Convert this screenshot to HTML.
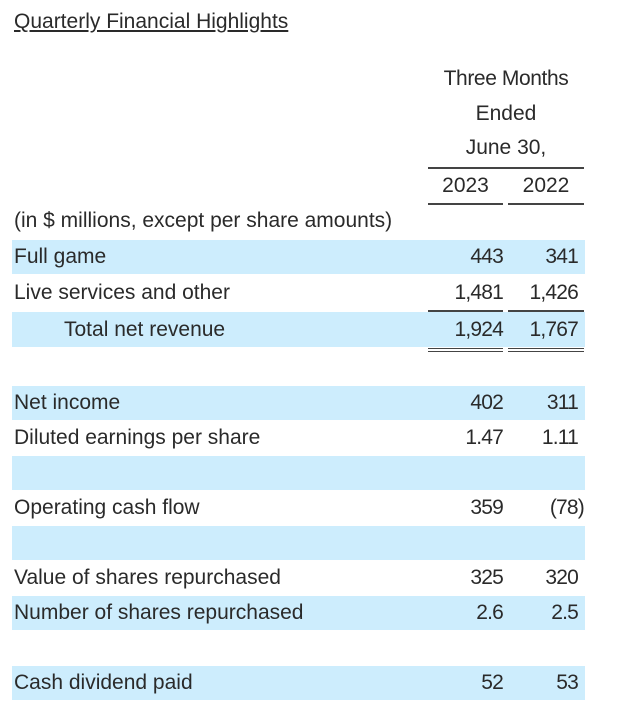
<!DOCTYPE html>
<html><head><meta charset="utf-8"><style>
body{margin:0;width:626px;height:717px;background:#fff;position:relative;font-family:"Liberation Sans",sans-serif;color:#2a2a2a;font-size:21px;letter-spacing:0px;overflow:hidden}
.t{position:absolute;line-height:22px;white-space:nowrap}
.s{position:absolute;left:12px;width:573px;background:#cdedfd}
.r{position:absolute;line-height:22px;text-align:right;white-space:nowrap;letter-spacing:-0.8px}
.l{position:absolute;height:2px;background:#444}
</style></head><body>
<div class="t" style="left:14px;top:11px;text-decoration:underline;font-size:21px;letter-spacing:0px">Quarterly Financial Highlights</div>
<div class="t" style="left:428px;width:156px;text-align:center;top:68px;letter-spacing:-0.4px">Three Months</div>
<div class="t" style="left:428px;width:156px;text-align:center;top:103px">Ended</div>
<div class="t" style="left:428px;width:156px;text-align:center;top:137px">June 30,</div>
<div class="l" style="left:428px;width:156px;top:167px"></div>
<div class="t" style="left:428px;width:75px;text-align:center;top:175px">2023</div>
<div class="t" style="left:508px;width:76px;text-align:center;top:175px">2022</div>
<div class="l" style="left:428px;width:75px;top:203px"></div>
<div class="l" style="left:508px;width:76px;top:203px"></div>
<div class="t" style="left:14px;top:210px">(in $ millions, except per share amounts)</div>

<div class="s" style="top:240px;height:34px"></div>
<div class="s" style="top:312px;height:35px"></div>
<div class="s" style="top:386px;height:34px"></div>
<div class="s" style="top:456px;height:34px"></div>
<div class="s" style="top:526px;height:34px"></div>
<div class="s" style="top:596px;height:34px"></div>
<div class="s" style="top:666px;height:34px"></div>

<div class="l" style="left:428px;width:75px;top:310px"></div>
<div class="l" style="left:508px;width:76px;top:310px"></div>
<div class="l" style="left:428px;width:75px;top:348px;height:1px"></div>
<div class="l" style="left:508px;width:76px;top:348px;height:1px"></div>
<div class="l" style="left:428px;width:75px;top:351px;height:1px"></div>
<div class="l" style="left:508px;width:76px;top:351px;height:1px"></div>

<div class="t" style="left:14px;top:246px">Full game</div>
<div class="r" style="right:123px;top:246px">443</div><div class="r" style="right:48px;top:246px">341</div>
<div class="t" style="left:14px;top:282px">Live services and other</div>
<div class="r" style="right:123px;top:282px">1,481</div><div class="r" style="right:48px;top:282px">1,426</div>
<div class="t" style="left:64px;top:319px">Total net revenue</div>
<div class="r" style="right:123px;top:319px">1,924</div><div class="r" style="right:48px;top:319px">1,767</div>
<div class="t" style="left:14px;top:392px">Net income</div>
<div class="r" style="right:123px;top:392px">402</div><div class="r" style="right:48px;top:392px">311</div>
<div class="t" style="left:14px;top:427px">Diluted earnings per share</div>
<div class="r" style="right:123px;top:427px">1.47</div><div class="r" style="right:48px;top:427px">1.11</div>
<div class="t" style="left:14px;top:497px">Operating cash flow</div>
<div class="r" style="right:123px;top:497px">359</div><div class="r" style="right:42px;top:497px">(78)</div>
<div class="t" style="left:14px;top:567px">Value of shares repurchased</div>
<div class="r" style="right:123px;top:567px">325</div><div class="r" style="right:48px;top:567px">320</div>
<div class="t" style="left:14px;top:602px">Number of shares repurchased</div>
<div class="r" style="right:123px;top:602px">2.6</div><div class="r" style="right:48px;top:602px">2.5</div>
<div class="t" style="left:14px;top:672px">Cash dividend paid</div>
<div class="r" style="right:123px;top:672px">52</div><div class="r" style="right:48px;top:672px">53</div>
</body></html>
